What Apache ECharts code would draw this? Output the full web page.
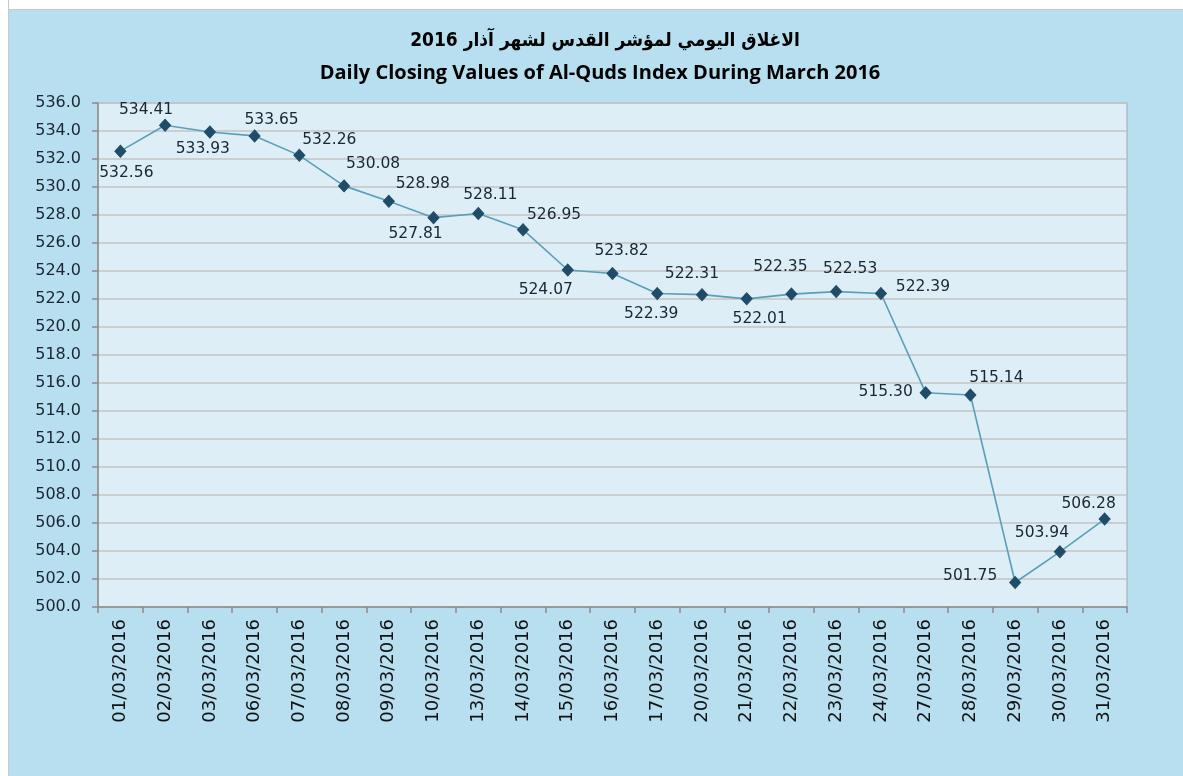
<!DOCTYPE html>
<html>
<head>
<meta charset="utf-8">
<script src="https://cdn.jsdelivr.net/npm/echarts@6/dist/echarts.min.js"></script>
<style>
html,body{margin:0;padding:0;background:#b7dfef;overflow:hidden;width:1183px;height:776px;}
#topw{position:absolute;left:0;top:0;width:1183px;height:9px;background:#fff;border-bottom:1px solid #c9c9c9;}
#leftw{position:absolute;left:0;top:0;width:8px;height:776px;background:#fff;border-right:1px solid #c9c9c9;}
#chart{position:absolute;left:0;top:0;width:1183px;height:776px;}
</style>
</head>
<body>
<div id="topw"></div>
<div id="leftw"></div>
<div id="chart"></div>
<script>
// ---- data ----
const titleAr = 'الاغلاق اليومي لمؤشر القدس لشهر آذار 2016';
const titleEn = 'Daily Closing Values of Al-Quds Index During March 2016';
const categories = ['01/03/2016','02/03/2016','03/03/2016','06/03/2016','07/03/2016','08/03/2016','09/03/2016','10/03/2016','13/03/2016','14/03/2016','15/03/2016','16/03/2016','17/03/2016','20/03/2016','21/03/2016','22/03/2016','23/03/2016','24/03/2016','27/03/2016','28/03/2016','29/03/2016','30/03/2016','31/03/2016'];
const closingValues = [532.56,534.41,533.93,533.65,532.26,530.08,528.98,527.81,528.11,526.95,524.07,523.82,522.39,522.31,522.01,522.35,522.53,522.39,515.30,515.14,501.75,503.94,506.28];
const yMin = 500, yMax = 536, yStep = 2;

// ---- label placement (style only) ----
const labelOffsets = [[6,22],[-19,-15],[-7,17],[17,-16],[30,-15],[29,-22],[34,-17],[-18,16],[12,-18],[31,-15],[-22,20],[9,-23],[-6,20],[-10,-21],[13,20],[-11,-27],[14,-23],[42,-7],[-40,-1],[26,-17],[-45,-7],[-18,-19],[-16,-15]];

const chart = echarts.init(document.getElementById('chart'), null, {renderer:'canvas'});
const seriesData = closingValues.map((v,i)=>({
  value: v,
  label: {offset: labelOffsets[i]}
}));

chart.setOption({
  animation:false,
  backgroundColor:'transparent',
  graphic:[
    {type:'text', x:605, y:41, style:{text:titleAr, align:'center', verticalAlign:'middle', font:'bold 19px "DejaVu Sans Condensed", "DejaVu Sans"', fill:'#000'}},
    {type:'text', x:600, y:73, style:{text:titleEn, align:'center', verticalAlign:'middle', font:'bold 20px "Open Sans"', fill:'#000'}}
  ],
  grid:{left:98, right:56, top:103, bottom:169, show:true, backgroundColor:'#ddeef7', borderColor:'#a6a6a6', borderWidth:1},
  xAxis:{
    type:'category', data:categories, boundaryGap:true,
    axisLine:{lineStyle:{color:'#8c8c8c', width:1.5}},
    axisTick:{show:true, alignWithLabel:false, length:6, lineStyle:{color:'#8c8c8c', width:1.5}},
    axisLabel:{rotate:90, interval:0, margin:12, fontFamily:'DejaVu Sans', fontSize:18, color:'#111'},
    splitLine:{show:false}
  },
  yAxis:{
    type:'value', min:yMin, max:yMax, interval:yStep,
    axisLine:{show:true, lineStyle:{color:'#8c8c8c', width:1.5}},
    axisTick:{show:true, length:6, lineStyle:{color:'#8c8c8c', width:1.5}},
    axisLabel:{margin:17, fontFamily:'DejaVu Sans', fontSize:16, color:'#1b2633', formatter:v=>v.toFixed(1)},
    splitLine:{show:true, lineStyle:{color:'#c3c3c3', width:1.5}}
  },
  series:[{
    type:'line', data:seriesData,
    symbol:'diamond', symbolSize:[11,12],
    lineStyle:{color:'#5a9fb6', width:1.6},
    itemStyle:{color:'#1f4d69', borderColor:'#1f4d69'},
    label:{show:true, position:'inside', fontFamily:'DejaVu Sans', fontSize:15.5, color:'#1b2633', formatter:p=>p.value.toFixed(2)}
  }]
});
</script>
</body>
</html>
